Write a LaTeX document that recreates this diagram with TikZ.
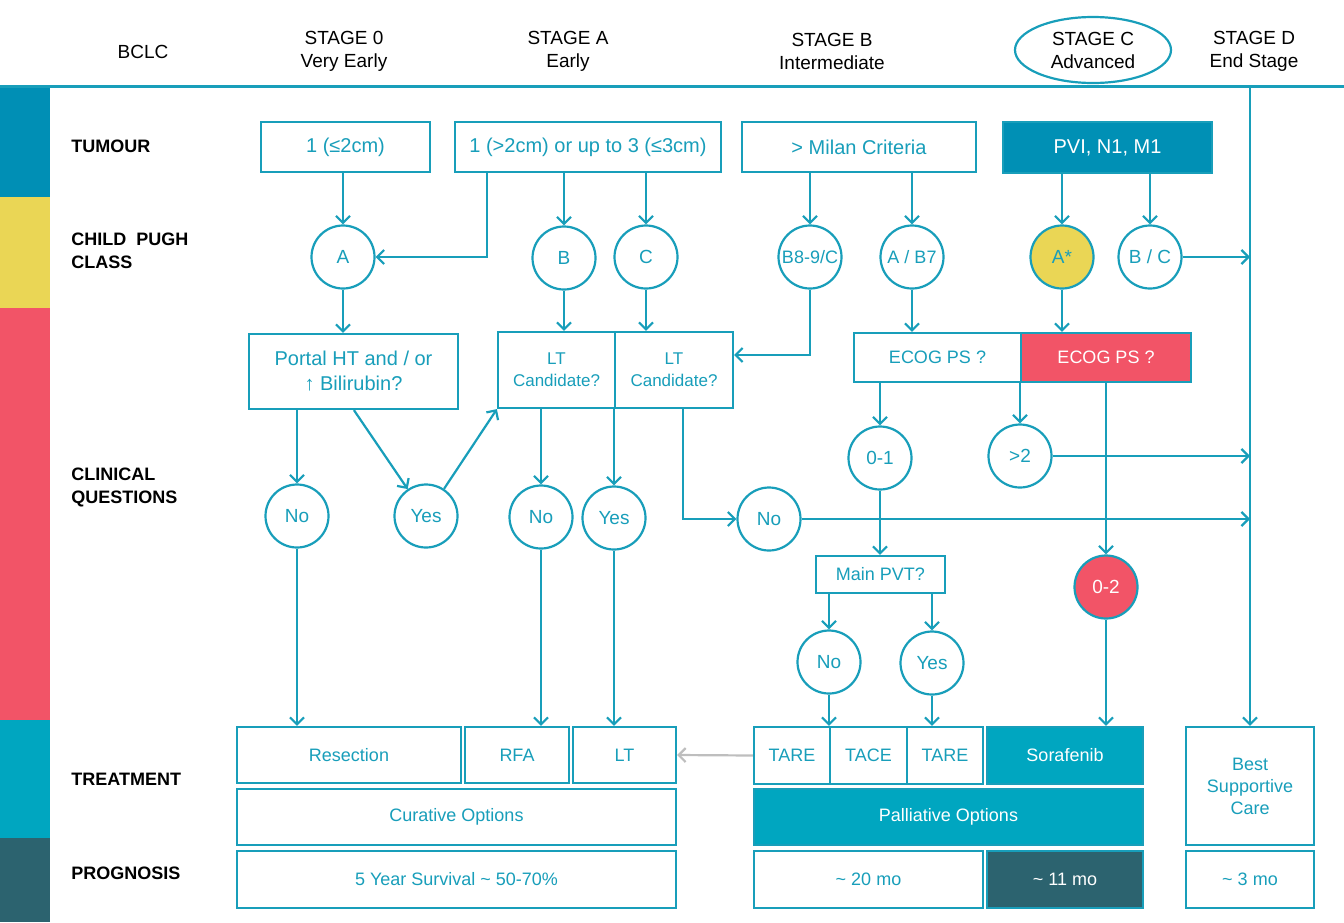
\documentclass[tikz,border=0pt]{standalone}
\usepackage{fontspec}
\setmainfont{Liberation Sans}
\usetikzlibrary{arrows.meta,shapes.geometric}
\definecolor{tl}{RGB}{24,158,186}
\definecolor{bandblue}{RGB}{0,143,181}
\definecolor{pviblue}{RGB}{0,144,181}
\definecolor{palblue}{RGB}{0,166,192}
\definecolor{redc}{RGB}{242,84,103}
\definecolor{yellowc}{RGB}{234,214,85}
\definecolor{slate}{RGB}{44,99,111}
\definecolor{grayarr}{RGB}{190,190,190}

\begin{document}
\begin{tikzpicture}[x=0.5pt,y=-0.5pt,->,>={Straight Barb[length=3.5pt,width=7pt]},
  wire/.style={draw=tl,line width=1.1pt},
  box/.style={rectangle,draw=tl,fill=white,text=tl,line width=1.1pt,inner sep=0pt,align=center,font=\fontsize{9}{11}\selectfont},
  fbox/.style={box,fill=#1,text=white},
  circ/.style={circle,draw=tl,fill=white,text=tl,line width=1.1pt,minimum size=31.5pt,inner sep=0pt,font=\fontsize{9.5}{11}\selectfont},
  head/.style={align=center,font=\fontsize{9.5}{11.5}\selectfont},
  row/.style={anchor=west,align=left,inner sep=0pt,font=\fontsize{9}{11.5}\selectfont\bfseries}]
\useasboundingbox (0,0) rectangle (1344,922);
\fill[bandblue] (0,87) rectangle (50,197);
\fill[yellowc] (0,197) rectangle (50,308);
\fill[redc] (0,308) rectangle (50,720);
\fill[palblue] (0,720) rectangle (50,838);
\fill[slate] (0,838) rectangle (50,922);
\draw[-,tl,line width=1.5pt] (0,86) -- (1344,86);

\node[head](bclc)at(143,52){BCLC};
\node[head](s0)at(344,51){STAGE 0\\Very Early};
\node[head](sa)at(568,51){STAGE A\\Early};
\node[head](sb)at(832,51){STAGE B\\Intermediate};
\node[head,ellipse,draw=tl,line width=1.1pt,minimum width=78pt,minimum height=33pt,inner sep=0pt](sc)at(1093,50){STAGE C\\Advanced};
\node[head](sd)at(1254,51){STAGE D\\End Stage};

\node[row](rt)at(71,146){TUMOUR};
\node[row](rc)at(71,251){CHILD\ \ PUGH\\CLASS};
\node[row](rq)at(71,487){CLINICAL\\QUESTIONS};
\node[row](rtr)at(71,779){TREATMENT};
\node[row](rp)at(71,873){PROGNOSIS};

\node[box,minimum width=84.5pt,minimum height=25pt,font=\fontsize{10}{12}\selectfont](t1)at(345.5,147){1 (≤2cm)};
\node[box,minimum width=133pt,minimum height=25pt,font=\fontsize{10}{12}\selectfont](t2)at(588,147){1 (>2cm) or up to 3 (≤3cm)};
\node[box,minimum width=117pt,minimum height=25pt,font=\fontsize{10}{12}\selectfont](t3)at(859,147){> Milan Criteria};
\node[fbox=pviblue,minimum width=104.5pt,minimum height=25.5pt,font=\fontsize{10}{12}\selectfont](t4)at(1107.5,147.5){PVI, N1, M1};

\node[circ](A)at(343,257){A};
\node[circ](B)at(564,258){B};
\node[circ](C)at(646,257){C};
\node[circ,font=\fontsize{9}{11}\selectfont](B89)at(810,257){B8-9/C};
\node[circ,font=\fontsize{9}{11}\selectfont](AB7)at(912,257){A / B7};
\node[circ,fill=yellowc](As)at(1062,257){A*};
\node[circ](BC)at(1150,257){B / C};

\node[box,minimum width=104.5pt,minimum height=37.5pt,font=\fontsize{10}{12.5}\selectfont](ph)at(353.5,371.5){Portal HT and / or\\↑ Bilirubin?};
\node[box,minimum width=58.5pt,minimum height=38pt,font=\fontsize{8.5}{11}\selectfont](lt1)at(556.5,370){LT\\Candidate?};
\node[box,minimum width=59pt,minimum height=38pt,font=\fontsize{8.5}{11}\selectfont](lt2)at(674,370){LT\\Candidate?};
\node[box,minimum width=83.5pt,minimum height=24.5pt](e1)at(937.5,357.5){ECOG PS ?};
\node[fbox=redc,minimum width=85pt,minimum height=24.5pt](e2)at(1106,357.5){ECOG PS ?};

\node[circ](n1)at(297,516){No};
\node[circ](y1)at(426,516){Yes};
\node[circ](n2)at(541,517){No};
\node[circ](y2)at(614,518){Yes};
\node[circ](n3)at(769,519){No};
\node[circ](z1)at(880,458){0-1};
\node[circ](gt2)at(1020,456){>2};
\node[circ,fill=redc,text=white](z2)at(1106,587){0-2};
\node[box,minimum width=64.5pt,minimum height=18.5pt](pvt)at(880.5,574.5){Main PVT?};
\node[circ](n4)at(829,662){No};
\node[circ](y4)at(932,663){Yes};

\node[box,minimum width=112pt,minimum height=28pt](res)at(349,755){Resection};
\node[box,minimum width=52pt,minimum height=28pt](rfa)at(517,755){RFA};
\node[box,minimum width=51.5pt,minimum height=28pt](lt)at(624.5,755){LT};
\node[box,minimum width=219.5pt,minimum height=28pt](cur)at(456.5,817){Curative Options};
\node[box,minimum width=219.5pt,minimum height=28.5pt](surv)at(456.5,879.5){5 Year Survival \textasciitilde{} 50-70\%};
\node[box,minimum width=38pt,minimum height=28.5pt](tare1)at(792,755.5){TARE};
\node[box,minimum width=38.5pt,minimum height=28.5pt](tace)at(868.5,755.5){TACE};
\node[box,minimum width=38pt,minimum height=28.5pt](tare2)at(945,755.5){TARE};
\node[fbox=palblue,minimum width=78pt,minimum height=28.5pt](sor)at(1065,755.5){Sorafenib};
\node[fbox=palblue,minimum width=194.5pt,minimum height=28pt](pal)at(948.5,817){Palliative Options};
\node[box,minimum width=114.5pt,minimum height=28.5pt](m20)at(868.5,879.5){\textasciitilde{} 20 mo};
\node[fbox=slate,minimum width=78pt,minimum height=28.5pt](m11)at(1065,879.5){\textasciitilde{} 11 mo};
\node[box,minimum width=64pt,minimum height=59pt](bsc)at(1250,786){Best\\Supportive\\Care};
\node[box,minimum width=64pt,minimum height=28.5pt](m3)at(1250,879.5){\textasciitilde{} 3 mo};
\coordinate(dtop)at(1250,86);

\path[wire,-,every edge/.append style={->}](A |- t1.south) edge (A)
  (B |- t2.south) edge (B)
  (C |- t2.south) edge (C)
  (B89 |- t3.south) edge (B89)
  (AB7 |- t3.south) edge (AB7)
  (As |- t4.south) edge (As)
  (BC |- t4.south) edge (BC)
  (BC) edge (BC -| bsc)
  (dtop) edge (bsc.north)
  (A) edge (A |- ph.north)
  (B) edge (B |- lt1.north)
  (C) edge (C |- lt2.north)
  (AB7) edge (AB7 |- e1.north)
  (As) edge (As |- e2.north)
  (n1 |- ph.south) edge (n1)
  ([xshift=53pt]ph.south west) edge (y1)
  (y1) edge (lt1.south west)
  (n2 |- lt1.south) edge (n2)
  (y2 |- lt1.south) edge (y2)
  (n3) edge (n3 -| bsc)
  (z1 |- e1.south) edge (z1)
  (gt2 |- e1.south) edge (gt2)
  (gt2) edge (gt2 -| bsc)
  (z2 |- e2.south) edge (z2)
  (z2) edge (z2 |- sor.north)
  (z1) edge (z1 |- pvt.north)
  (n4 |- pvt.south) edge (n4)
  (y4 |- pvt.south) edge (y4)
  (n4) edge (n4 |- tare1.north)
  (y4) edge (y4 |- tare2.north)
  (n1) edge (n1 |- res.north)
  (n2) edge (n2 |- rfa.north)
  (y2) edge (y2 |- lt.north);
\draw[wire]([xshift=16.5pt]t2.south west) |- (A);
\draw[wire](B89) |- ([yshift=7.5pt]lt2.east);
\draw[wire]([xshift=34.5pt]lt2.south west) |- (n3);
\draw[wire,draw=grayarr](tare1.west) -- (lt.east);
\end{tikzpicture}
\end{document}
